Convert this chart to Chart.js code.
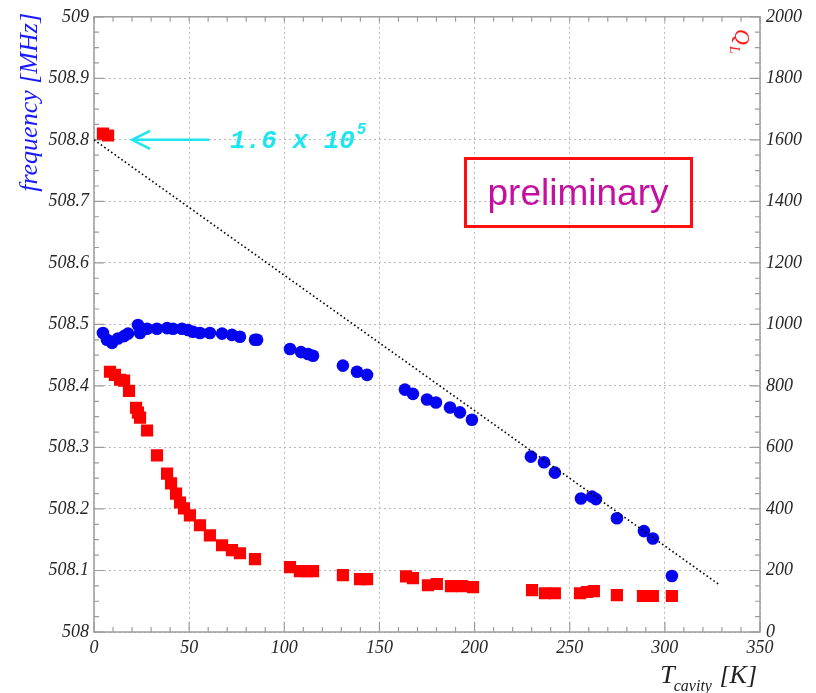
<!DOCTYPE html>
<html>
<head>
<meta charset="utf-8">
<script src="https://cdn.jsdelivr.net/npm/chart.js@4.4.1/dist/chart.umd.min.js"></script>
<style>
html,body{margin:0;padding:0;background:#fff;}
#wrap{width:816px;height:693px;position:relative;}
</style>
</head>
<body>
<div id="wrap"><canvas id="c" width="816" height="693"></canvas></div>
<script>
// ---- data ----
const tFreq = [4.7,6.8,9.5,12.6,15.8,17.9,23.1,24.2,27.9,33.1,38.4,41.5,46.2,49.4,52.0,55.7,60.9,67.3,72.5,76.7,84.6,85.7,
  103.0,108.8,112.5,115.1,130.8,138.2,143.5,163.4,167.6,175.0,179.7,187.1,192.3,198.6,229.6,236.5,242.2,255.9,261.7,263.8,274.8,289.0,293.7,303.7];
const freqMHz = [508.486,508.475,508.470,508.477,508.481,508.485,508.499,508.486,508.493,508.493,508.494,508.493,508.493,508.491,508.488,508.486,508.486,508.485,508.483,508.480,508.475,508.475,
  508.460,508.455,508.452,508.449,508.433,508.423,508.418,508.394,508.387,508.378,508.373,508.365,508.357,508.345,508.285,508.276,508.259,508.217,508.220,508.216,508.185,508.164,508.152,508.091];

const tQ = [4.7,7.4,8.4,11.0,13.7,15.8,18.4,22.1,23.1,24.2,27.9,33.1,38.4,40.5,43.1,45.2,47.3,50.4,55.7,60.9,67.3,72.5,76.7,84.6,
  103.0,108.2,111.9,115.1,130.8,139.8,143.5,164.0,167.6,175.5,180.2,187.6,193.4,199.2,230.2,237.0,242.2,255.4,259.1,262.7,274.8,288.5,293.7,303.7];
const qL = [1620,1614,846,836,820,817,784,729,713,697,655,574,515,483,450,421,402,379,347,314,282,266,256,237,
  211,198,198,198,185,172,172,181,175,152,156,149,149,146,136,126,126,126,130,133,120,117,117,117];

const trendT = [0, 329];
const trendQ = [1600, 152];

const xTickValues = [0,50,100,150,200,250,300,350];
const freqTickValues = [508,508.1,508.2,508.3,508.4,508.5,508.6,508.7,508.8,508.9,509];
const freqTickLabels = ['508','508.1','508.2','508.3','508.4','508.5','508.6','508.7','508.8','508.9','509'];
const qTickValues = [0,200,400,600,800,1000,1200,1400,1600,1800,2000];
const qTickLabels = ['0','200','400','600','800','1000','1200','1400','1600','1800','2000'];

const arrowNote = ['1.6 x 10', '5'];
const boxNote = 'preliminary';

// ---- chart ----
const AX = '#9c9c9c';
const GRID = '#b8b8b8';
const tickFont = {family:'Liberation Serif', style:'italic', size:18};

const framePlugin = {
  id:'frame',
  beforeDatasetsDraw(chart){
    const {ctx, chartArea:a, scales} = chart;
    ctx.save();
    ctx.strokeStyle = AX; ctx.lineWidth = 1.5;
    ctx.strokeRect(a.left, a.top, a.right-a.left, a.bottom-a.top);
    ctx.lineWidth = 1.2;
    ctx.beginPath();
    for (let v=0; v<=350; v+=10){
      const px = scales.x.getPixelForValue(v);
      const major = v%50===0;
      ctx.moveTo(px, a.bottom); ctx.lineTo(px, a.bottom-(major?10:5));
      ctx.moveTo(px, a.top); ctx.lineTo(px, a.top+5);
    }
    for (let i=0;i<=40;i++){
      const v = 508 + i*0.025;
      const py = scales.y.getPixelForValue(v);
      const major = i%4===0;
      ctx.moveTo(a.left, py); ctx.lineTo(a.left+(major?10:5), py);
    }
    for (let v=0; v<=2000; v+=50){
      const py = scales.y2.getPixelForValue(v);
      const major = v%200===0;
      ctx.moveTo(a.right, py); ctx.lineTo(a.right-(major?10:5), py);
    }
    ctx.stroke();
    ctx.restore();
  },
  afterDraw(chart){
    const {ctx} = chart;
    ctx.save();
    ctx.fillStyle = '#1a1aff';
    ctx.font = 'italic 26px "Liberation Serif"';
    ctx.translate(37, 13);
    ctx.rotate(-Math.PI/2);
    ctx.textAlign = 'right';
    ctx.textBaseline = 'alphabetic';
    ctx.fillText('frequency [MHz]', 0, 0);
    ctx.restore();

    ctx.save();
    ctx.fillStyle = '#ff1a1a';
    ctx.translate(735, 29);
    ctx.rotate(Math.PI/2);
    ctx.font = 'italic 22px "Liberation Serif"';
    ctx.textBaseline = 'alphabetic';
    ctx.fillText('Q', 0, 0);
    const qw = ctx.measureText('Q').width;
    ctx.font = 'italic 14px "Liberation Serif"';
    ctx.fillText('L', qw+1, 5);
    ctx.restore();

    ctx.save();
    ctx.fillStyle = '#222';
    ctx.textBaseline = 'alphabetic';
    const big = 'italic 26px "Liberation Serif"', small = 'italic 16px "Liberation Serif"';
    ctx.font = big; const wT = ctx.measureText('T').width; const wK = ctx.measureText(' [K]').width;
    ctx.font = small; const wc = ctx.measureText('cavity').width;
    let x0 = 757 - (wT + wc + wK);
    ctx.font = big; ctx.fillText('T', x0, 683);
    ctx.font = small; ctx.fillText('cavity', x0+wT-1, 691);
    ctx.font = big; ctx.fillText(' [K]', x0+wT+wc, 683);
    ctx.restore();
  },
  afterDatasetsDraw(chart){
    const {ctx, scales} = chart;
    ctx.save();
    const ya = scales.y.getPixelForValue(508.8);
    const xs = scales.x.getPixelForValue(60.5), xe = scales.x.getPixelForValue(20);
    ctx.strokeStyle = '#1ee6ee'; ctx.lineWidth = 2.5;
    ctx.beginPath();
    ctx.moveTo(xs, ya); ctx.lineTo(xe, ya);
    ctx.moveTo(xe+18, ya-9); ctx.lineTo(xe, ya); ctx.lineTo(xe+18, ya+9);
    ctx.stroke();
    ctx.fillStyle = '#1ee6ee';
    ctx.font = 'italic bold 26px "Liberation Mono"';
    ctx.textBaseline = 'alphabetic';
    const xt = scales.x.getPixelForValue(71.5);
    ctx.fillText(arrowNote[0], xt, ya+8);
    const w = ctx.measureText(arrowNote[0]).width;
    ctx.font = 'italic bold 16px "Liberation Mono"';
    ctx.fillText(arrowNote[1], xt+w+2, ya-6);

    ctx.strokeStyle = '#ff1010'; ctx.lineWidth = 3;
    ctx.strokeRect(465.5, 158.5, 226, 68);
    ctx.fillStyle = '#c40fa0';
    ctx.font = '37px "Liberation Sans"';
    ctx.textAlign = 'center';
    ctx.fillText(boxNote, 578, 205);
    ctx.restore();
  }
};

new Chart(document.getElementById('c'), {
  type:'scatter',
  data:{
    datasets:[
      {label:'frequency', yAxisID:'y', order:1,
       data: tFreq.map((t,i)=>({x:t, y:freqMHz[i]})),
       pointStyle:'circle', pointRadius:6.3, backgroundColor:'#0505f0', borderColor:'#0505f0', borderWidth:0},
      {label:'QL', yAxisID:'y2', order:2,
       data: tQ.map((t,i)=>({x:t, y:qL[i]})),
       pointStyle:'rect', pointRadius:8.6, backgroundColor:'#ff0000', borderColor:'#ff0000', borderWidth:0},
      {label:'trend', yAxisID:'y2', order:0, showLine:true,
       data: trendT.map((t,i)=>({x:t, y:trendQ[i]})),
       pointRadius:0, borderColor:'#000', borderWidth:1.6, borderDash:[1.6,2.6], fill:false}
    ]
  },
  options:{
    responsive:false, animation:false,
    layout:{padding:{top:15, left:0, right:0, bottom:0}},
    plugins:{legend:{display:false}, tooltip:{enabled:false}},
    scales:{
      x:{type:'linear', position:'bottom', min:0, max:350,
         afterBuildTicks: s => { s.ticks = xTickValues.map(v=>({value:v})); },
         afterFit: s => { s.height = 61; },
         ticks:{font:tickFont, color:'#262626', padding:5, maxRotation:0, autoSkip:false,
                callback:(v)=>String(v)},
         grid:{color:GRID, lineWidth:1, drawTicks:false},
         border:{display:false, dash:[2,3]}},
      y:{type:'linear', position:'left', min:508, max:509,
         afterBuildTicks: s => { s.ticks = freqTickValues.map(v=>({value:v})); },
         afterFit: s => { s.width = 94; },
         ticks:{font:tickFont, color:'#262626', padding:5, autoSkip:false,
                callback:(v)=>{ const i = freqTickValues.findIndex(t=>Math.abs(t-v)<1e-6); return i>=0?freqTickLabels[i]:''; }},
         grid:{color:GRID, lineWidth:1, drawTicks:false},
         border:{display:false, dash:[2,3]}},
      y2:{type:'linear', position:'right', min:0, max:2000,
         afterBuildTicks: s => { s.ticks = qTickValues.map(v=>({value:v})); },
         afterFit: s => { s.width = 56; },
         ticks:{font:tickFont, color:'#262626', padding:6, autoSkip:false,
                callback:(v)=>{ const i = qTickValues.indexOf(v); return i>=0?qTickLabels[i]:''; }},
         grid:{display:false, drawTicks:false},
         border:{display:false}}
    }
  },
  plugins:[framePlugin]
});
</script>
</body>
</html>
